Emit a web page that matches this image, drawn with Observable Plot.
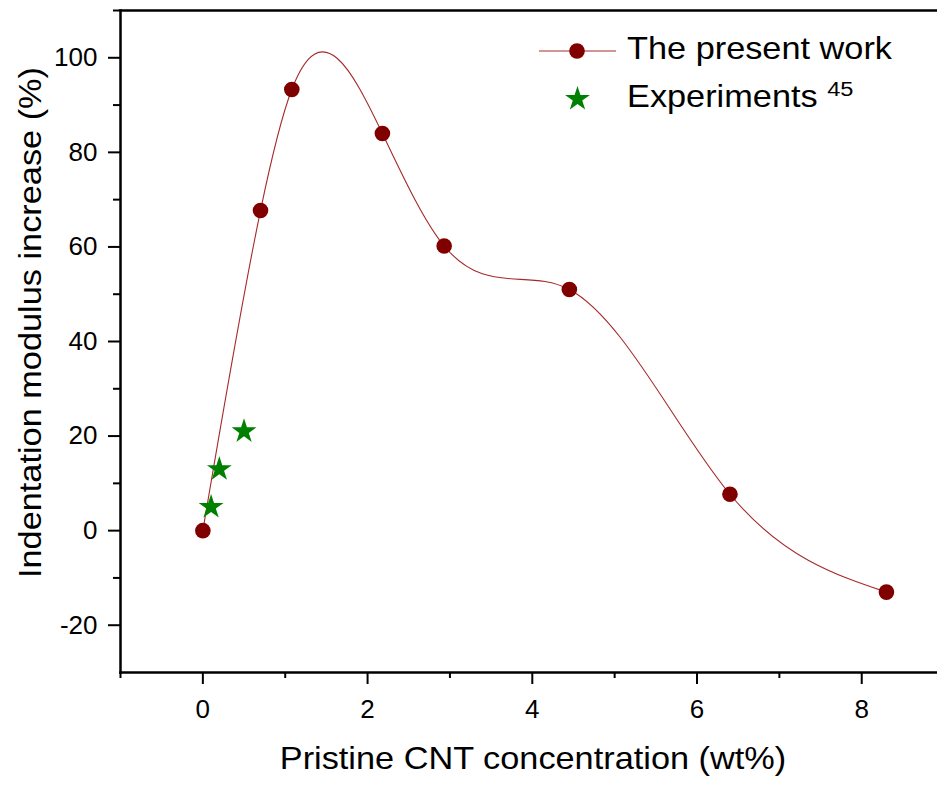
<!DOCTYPE html>
<html>
<head>
<meta charset="utf-8">
<script src="https://cdn.jsdelivr.net/npm/d3@7"></script>
<script src="https://cdn.jsdelivr.net/npm/@observablehq/plot@0.6"></script>
<style>
  body { margin: 0; background: #fff; font-family: "Liberation Sans", Arial, sans-serif; }
  #wrap { position: relative; width: 937px; height: 785px; }
</style>
</head>
<body>
<div id="wrap"></div>
<script>
// Data: The present work
const workX = [0, 0.7, 1.08, 2.18, 2.93, 4.45, 6.4, 8.3];
const workY = [0, 67.7, 93.3, 84.0, 60.2, 51.0, 7.7, -13.0];
// Data: Experiments (ref. 45)
const expX = [0.1, 0.2, 0.5];
const expY = [5, 13, 21];
// Tick labels
const xMajor = [0, 2, 4, 6, 8];
const xMinor = [-1, 1, 3, 5, 7];
const yMajor = [-20, 0, 20, 40, 60, 80, 100];
const yMinor = [-10, 10, 30, 50, 70, 90, 110];
// Texts
const xLabel = "Pristine CNT concentration (wt%)";
const yLabel = "Indentation modulus increase (%)";
const seriesNames = ["The present work", "Experiments"];
const expRef = "45";

const work = workX.map((x, i) => ({x, y: workY[i]}));
const exp = expX.map((x, i) => ({x, y: expY[i]}));

const red = "#800000";
const lineColor = "#a52a2a";
const green = "#008000";
const font = "Liberation Sans, Arial, sans-serif";
const stretch = 1.125; // the reference typeface is a little wider than Arial
const starR = 7.8;

// Custom curve: natural cubic spline y(x) (Origin-style "Spline" connector),
// drawn as exact cubic Bézier segments through the given points.
function splineYofX(context) {
  let pts;
  return {
    areaStart() {}, areaEnd() {},
    lineStart() { pts = []; },
    point(x, y) { pts.push([+x, +y]); },
    lineEnd() {
      const n = pts.length;
      if (n === 0) return;
      context.moveTo(pts[0][0], pts[0][1]);
      if (n === 1) return;
      if (n === 2) { context.lineTo(pts[1][0], pts[1][1]); return; }
      const h = [], M = new Array(n).fill(0);
      for (let i = 0; i < n - 1; i++) h.push(pts[i + 1][0] - pts[i][0]);
      const a = [], b = [], c = [], d = [];
      for (let i = 1; i < n - 1; i++) {
        a.push(h[i - 1]);
        b.push(2 * (h[i - 1] + h[i]));
        c.push(h[i]);
        d.push(6 * ((pts[i + 1][1] - pts[i][1]) / h[i] - (pts[i][1] - pts[i - 1][1]) / h[i - 1]));
      }
      const m = b.length;
      for (let i = 1; i < m; i++) {
        const w = a[i] / b[i - 1];
        b[i] -= w * c[i - 1];
        d[i] -= w * d[i - 1];
      }
      const sol = new Array(m);
      sol[m - 1] = d[m - 1] / b[m - 1];
      for (let i = m - 2; i >= 0; i--) sol[i] = (d[i] - c[i] * sol[i + 1]) / b[i];
      for (let i = 0; i < m; i++) M[i + 1] = sol[i];
      const slope = new Array(n);
      for (let i = 0; i < n - 1; i++) {
        slope[i] = (pts[i + 1][1] - pts[i][1]) / h[i] - h[i] * (2 * M[i] + M[i + 1]) / 6;
      }
      const k = n - 2;
      slope[n - 1] = (pts[n - 1][1] - pts[k][1]) / h[k] + h[k] * (M[k] + 2 * M[n - 1]) / 6;
      for (let i = 0; i < n - 1; i++) {
        const [x0, y0] = pts[i], [x1, y1] = pts[i + 1];
        const t = h[i] / 3;
        context.bezierCurveTo(x0 + t, y0 + slope[i] * t, x1 - t, y1 - slope[i + 1] * t, x1, y1);
      }
    }
  };
}

const chart = Plot.plot({
  width: 937,
  height: 785,
  marginLeft: 120,
  marginRight: 0,
  marginTop: 10,
  marginBottom: 113,
  style: {fontFamily: font, background: "#fff", color: "#000", overflow: "visible"},
  x: {domain: [-1, 8.92]},
  y: {domain: [-30, 110]},
  marks: [
    Plot.axisX(xMajor, {tickSize: 12, tickPadding: 15, fontSize: 26, strokeWidth: 2, tickFormat: d => String(d), label: null}),
    Plot.axisX(xMinor, {tickSize: 6, strokeWidth: 2, tickFormat: () => "", label: null}),
    Plot.axisY(yMajor, {tickSize: 12, tickPadding: 11, fontSize: 26, strokeWidth: 2, tickFormat: d => String(d), label: null}),
    Plot.axisY(yMinor, {tickSize: 7, strokeWidth: 2, tickFormat: () => "", label: null}),
    Plot.frame({anchor: "left", strokeWidth: 2.5}),
    Plot.frame({anchor: "bottom", strokeWidth: 2.5}),
    Plot.frame({anchor: "top", strokeWidth: 2.5}),
    Plot.line(work, {x: "x", y: "y", curve: splineYofX, stroke: lineColor, strokeWidth: 1.1}),
    Plot.dot(work, {x: "x", y: "y", r: 7.8, fill: red, stroke: "none"}),
    Plot.dot(exp, {x: "x", y: "y", symbol: "star", r: starR, fill: green, stroke: "none"}),
    Plot.text([xLabel], {frameAnchor: "bottom", lineAnchor: "top", dx: 4, dy: 75, fontSize: 30.5, fill: "#000"}),
    Plot.text([yLabel], {frameAnchor: "left", textAnchor: "middle", dx: -89, dy: -19, rotate: -90, fontSize: 30.5, fill: "#000"})
  ]
});

// widen the two axis titles along their own direction
chart.querySelectorAll("text").forEach(el => {
  if (el.textContent !== xLabel && el.textContent !== yLabel) return;
  const t = el.getAttribute("transform") || "";
  el.setAttribute("transform", `${t} scale(${stretch},1)`.trim());
});

const wrap = document.getElementById("wrap");
wrap.appendChild(chart);

// Legend (inside the plot, top right)
const ns = "http://www.w3.org/2000/svg";
const lg = document.createElementNS(ns, "svg");
lg.setAttribute("width", 937);
lg.setAttribute("height", 130);
lg.style.position = "absolute";
lg.style.left = "0px";
lg.style.top = "0px";
const starPath = d3.symbol(d3.symbolStar, Math.PI * starR * starR)();
lg.innerHTML = `
  <line x1="539" x2="616" y1="51" y2="51" stroke="${lineColor}" stroke-width="1.1"/>
  <circle cx="577" cy="51" r="7.8" fill="${red}"/>
  <path transform="translate(577.5,99)" d="${starPath}" fill="${green}"/>
  <text transform="translate(627,58.5) scale(${stretch},1)" font-size="30.5" font-family="${font}">${seriesNames[0]}</text>
  <text transform="translate(627,107) scale(${stretch},1)" font-size="30.5" font-family="${font}">${seriesNames[1]} <tspan font-size="21" dy="-11">${expRef}</tspan></text>`;
wrap.appendChild(lg);
</script>
</body>
</html>
